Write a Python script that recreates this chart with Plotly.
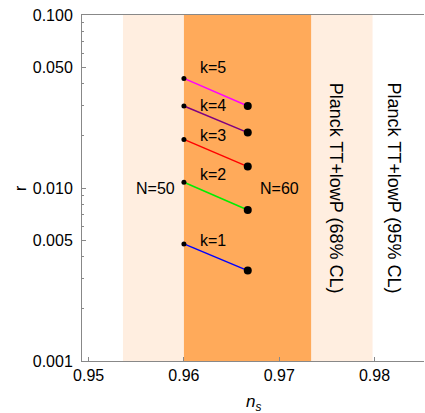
import math
import plotly.graph_objects as go

# ---- data ----
k_labels = ["k=1", "k=2", "k=3", "k=4", "k=5"]
line_colors = ["#0000FF", "#00EE00", "#FF0000", "#800080", "#FF00FF"]
ns_N50 = 0.96
ns_N60 = 0.9667
r_N50 = [0.00475, 0.0108, 0.0191, 0.0298, 0.0430]
r_N60 = [0.00333, 0.00746, 0.0133, 0.0209, 0.0298]
k_label_ns = 0.963
k_label_r = [0.005, 0.012, 0.02, 0.03, 0.05]

band95 = [0.9536, 0.9798]
band68 = [0.9600, 0.97335]

ytick_vals = [0.001, 0.005, 0.01, 0.05, 0.1]
ytick_text = ["0.001", "0.005", "0.010", "0.050", "0.100"]
ytick_minor = [0.002, 0.003, 0.004, 0.006, 0.007, 0.008, 0.009,
               0.02, 0.03, 0.04, 0.06, 0.07, 0.08, 0.09]
xtick_vals = [0.95, 0.96, 0.97, 0.98]
xtick_text = ["0.95", "0.96", "0.97", "0.98"]

FONT = "Liberation Sans, Arial, sans-serif"

fig = go.Figure()

for i in range(len(k_labels)):
    fig.add_trace(go.Scatter(
        x=[ns_N50, ns_N60], y=[r_N50[i], r_N60[i]], mode="lines",
        line=dict(color=line_colors[i], width=1.5), showlegend=False,
        hoverinfo="skip"))

fig.add_trace(go.Scatter(
    x=[ns_N50] * len(r_N50), y=r_N50, mode="markers",
    marker=dict(color="black", size=5), showlegend=False))
fig.add_trace(go.Scatter(
    x=[ns_N60] * len(r_N60), y=r_N60, mode="markers",
    marker=dict(color="black", size=8), showlegend=False))

# bands
fig.add_shape(type="rect", xref="x", yref="paper", x0=band95[0], x1=band95[1],
              y0=0, y1=1, fillcolor="#FFEEE0", line_width=0, layer="below")
fig.add_shape(type="rect", xref="x", yref="paper", x0=band68[0], x1=band68[1],
              y0=0, y1=1, fillcolor="#FFAA5A", line_width=0, layer="below")

annotations = []
for i in range(len(k_labels)):
    annotations.append(dict(x=k_label_ns, y=math.log10(k_label_r[i]), xref="x", yref="y",
                            text=k_labels[i], showarrow=False,
                            font=dict(family=FONT, size=16, color="black")))
for xpos, txt in [(0.957, "N=50"), (0.970, "N=60")]:
    annotations.append(dict(x=xpos, y=-2, xref="x", yref="y", text=txt,
                            showarrow=False,
                            font=dict(family=FONT, size=16, color="black")))
for xpos, txt in [(0.976, "Planck TT+lowP (68% CL)"), (0.982, "Planck TT+lowP (95% CL)")]:
    annotations.append(dict(x=xpos, y=-2, xref="x", yref="y", text=txt,
                            showarrow=False, textangle=90,
                            font=dict(family=FONT, size=18, color="black")))
annotations.append(dict(x=0, y=0.5, xref="paper", yref="paper", text="r",
                        showarrow=False, textangle=-90, xanchor="center",
                        xshift=-62, font=dict(family=FONT, size=16, color="black")))
annotations.append(dict(x=0.5, y=0, xref="paper", yref="paper",
                        text="<i>n</i><sub><i>s</i></sub>", showarrow=False,
                        yanchor="middle", yshift=-42,
                        font=dict(family=FONT, size=17, color="black")))

fig.update_layout(
    width=425, height=413,
    margin=dict(l=82, r=1, t=15, b=52),
    paper_bgcolor="white", plot_bgcolor="white",
    font=dict(family=FONT, size=16, color="black"),
    annotations=annotations,
    xaxis=dict(range=[0.9493, 0.9852], tickvals=xtick_vals, ticktext=xtick_text,
               ticks="inside", ticklen=4, tickcolor="#888888",
               showline=True, linecolor="#888888", linewidth=1, mirror=True,
               showgrid=False, zeroline=False, automargin=False,
               tickfont=dict(family=FONT, size=16, color="black")),
    yaxis=dict(type="log", range=[-3, -1], tickvals=ytick_vals, ticktext=ytick_text,
               ticks="inside", ticklen=4, tickcolor="#888888", ticklabelstandoff=5,
               minor=dict(tickvals=ytick_minor, ticks="inside", ticklen=2,
                          tickcolor="#888888", showgrid=False),
               showline=True, linecolor="#888888", linewidth=1, mirror=False,
               showgrid=False, zeroline=False, automargin=False,
               tickfont=dict(family=FONT, size=16, color="black")),
)

fig.write_html("out.html", config={"displayModeBar": False},
               post_script="document.body.style.margin='0px';document.body.style.overflow='hidden';")
